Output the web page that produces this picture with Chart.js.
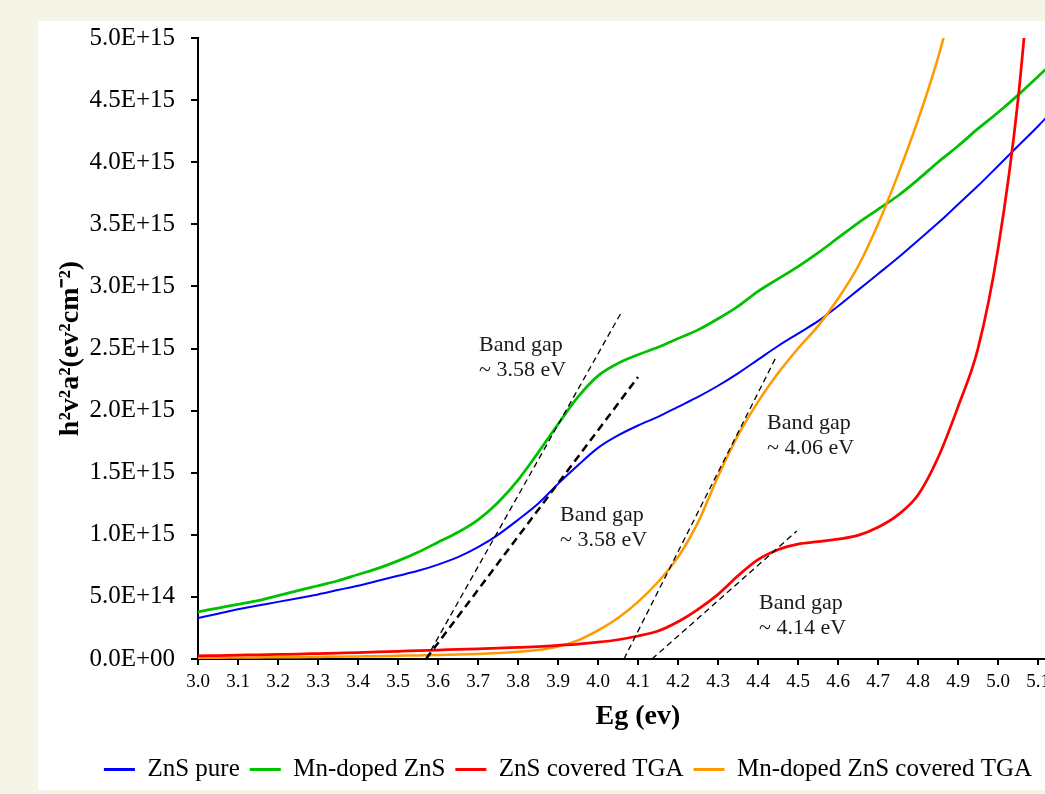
<!DOCTYPE html>
<html>
<head>
<meta charset="utf-8">
<script src="https://cdn.jsdelivr.net/npm/chart.js@4.4.0/dist/chart.umd.min.js"></script>
<style>
    html, body { margin: 0; padding: 0; overflow: hidden; }
    body { background: #f4f5e6; width: 1045px; height: 794px; position: relative; }
    #panel { position: absolute; left: 38px; top: 21px; width: 1060px; height: 769px; background: #fff; overflow: hidden; }
</style>
</head>
<body>
<div id="panel"><canvas id="chart" width="1080" height="771"></canvas></div>
<script>
// Photon energy (eV), shared x values
const energy = [3.00, 3.05, 3.10, 3.15, 3.20, 3.25, 3.30, 3.35, 3.40, 3.45,
    3.50, 3.55, 3.60, 3.65, 3.70, 3.75, 3.80, 3.85, 3.90, 3.95,
    4.00, 4.05, 4.10, 4.15, 4.20, 4.25, 4.30, 4.35, 4.40, 4.45,
    4.50, 4.55, 4.60, 4.65, 4.70, 4.75, 4.80, 4.85, 4.90, 4.95,
    5.00, 5.05, 5.10, 5.15, 5.20];

// (ahv)^2 values in units of 1E+15
const znsPure = [0.33, 0.365, 0.40, 0.43, 0.46, 0.49, 0.52, 0.555, 0.59, 0.63,
    0.67, 0.71, 0.76, 0.82, 0.90, 1.00, 1.12, 1.25, 1.41, 1.56,
    1.70, 1.80, 1.88, 1.95, 2.03, 2.11, 2.20, 2.30, 2.41, 2.52,
    2.62, 2.72, 2.84, 2.97, 3.10, 3.23, 3.37, 3.51, 3.66, 3.81,
    3.97, 4.13, 4.29, 4.46, 4.63];
const mnDoped = [0.38, 0.41, 0.44, 0.47, 0.51, 0.55, 0.59, 0.63, 0.68, 0.73,
    0.79, 0.86, 0.94, 1.02, 1.12, 1.26, 1.44, 1.66, 1.89, 2.11,
    2.28, 2.38, 2.45, 2.51, 2.58, 2.65, 2.74, 2.84, 2.96, 3.06,
    3.16, 3.27, 3.39, 3.51, 3.62, 3.73, 3.86, 4.00, 4.13, 4.27,
    4.40, 4.54, 4.69, 4.84, 4.99];
const znsTga = [0.025, 0.028, 0.031, 0.034, 0.037, 0.040, 0.044, 0.048, 0.052, 0.057,
    0.062, 0.067, 0.072, 0.077, 0.082, 0.087, 0.093, 0.100, 0.110, 0.120,
    0.135, 0.155, 0.185, 0.225, 0.30, 0.40, 0.52, 0.67, 0.80, 0.88,
    0.925, 0.945, 0.965, 0.995, 1.06, 1.16, 1.32, 1.62, 2.03, 2.50,
    3.30, 4.50, 6.30];
const mnDopedTga = [0.010, 0.011, 0.012, 0.013, 0.014, 0.015, 0.017, 0.019, 0.021, 0.023,
    0.026, 0.029, 0.032, 0.036, 0.041, 0.048, 0.058, 0.072, 0.100, 0.150,
    0.23, 0.33, 0.46, 0.62, 0.82, 1.10, 1.47, 1.80, 2.07, 2.30,
    2.50, 2.68, 2.90, 3.16, 3.50, 3.90, 4.34, 4.84, 5.45];

// Tangent (band gap) lines: [start, end]
const tangentMnX = [3.57, 4.06];
const tangentMnY = [0, 2.80];
const tangentPureX = [3.57, 4.10];
const tangentPureY = [0, 2.27];
const tangentMnTgaX = [4.065, 4.445];
const tangentMnTgaY = [0, 2.43];
const tangentTgaX = [4.135, 4.497];
const tangentTgaY = [0, 1.03];

// Band gap notes (anchored in data units)
const noteX = [3.7025, 3.905, 4.4225, 4.4025];
const noteY = [2.528, 1.159, 1.900, 0.451];
const noteText = ['~ 3.58 eV', '~ 3.58 eV', '~ 4.06 eV', '~ 4.14 eV'];

const seriesLabels = ['ZnS pure', 'Mn-doped ZnS', 'ZnS covered TGA', 'Mn-doped ZnS covered TGA'];
const seriesColors = ['#0000ff', '#00c000', '#ff0000', '#ff9900'];

const serif = '"Times New Roman", "Liberation Serif", serif';

function toPoints(xs, ys) {
    return ys.map((v, i) => ({ x: xs[i], y: v }));
}

function sci(v) {
    const val = Math.round(v * 10) / 10 * 1e15;
    if (val === 0) return '0.0E+00';
    const e = Math.floor(Math.log10(val) + 1e-9);
    const m = val / Math.pow(10, e);
    return m.toFixed(1) + 'E+' + String(e).padStart(2, '0');
}

function curve(i, values, width, order) {
    return {
        label: seriesLabels[i],
        data: toPoints(energy, values),
        borderColor: seriesColors[i],
        borderWidth: width,
        pointRadius: 0,
        cubicInterpolationMode: 'monotone',
        order: order
    };
}

function tangent(xs, ys, width, dash) {
    return {
        label: '',
        data: toPoints(xs, ys),
        borderColor: '#000',
        borderWidth: width,
        borderDash: dash,
        pointRadius: 0,
        tension: 0,
        order: 0
    };
}

const bandGapNotes = {
    id: 'bandGapNotes',
    afterDatasetsDraw(chart) {
        const { ctx, scales: { x, y } } = chart;
        ctx.save();
        ctx.font = '22px ' + serif;
        ctx.fillStyle = '#1a1a1a';
        ctx.textBaseline = 'middle';
        ctx.textAlign = 'left';
        noteX.forEach((nx, i) => {
            const px = x.getPixelForValue(nx);
            const py = y.getPixelForValue(noteY[i]);
            ctx.fillText('Band gap', px, py);
            ctx.fillText(noteText[i], px, py + 25);
        });
        ctx.restore();
    }
};

new Chart(document.getElementById('chart'), {
    type: 'line',
    data: {
        datasets: [
            curve(0, znsPure, 2, 2),
            curve(1, mnDoped, 2.75, 2),
            curve(2, znsTga, 2.75, 1),
            curve(3, mnDopedTga, 2.5, 1),
            tangent(tangentMnX, tangentMnY, 1.3, [6, 4]),
            tangent(tangentPureX, tangentPureY, 2.5, [8, 5]),
            tangent(tangentMnTgaX, tangentMnTgaY, 1.3, [6, 4]),
            tangent(tangentTgaX, tangentTgaY, 1.3, [6, 4])
        ]
    },
    options: {
        responsive: false,
        animation: false,
        devicePixelRatio: 1,
        layout: { padding: { top: 17, right: 40, bottom: 0, left: 20 } },
        plugins: {
            tooltip: { enabled: false },
            legend: {
                position: 'bottom',
                labels: {
                    usePointStyle: true,
                    pointStyleWidth: 31,
                    padding: 10,
                    color: '#000',
                    font: { family: serif, size: 25 },
                    generateLabels: (chart) => chart.data.datasets.slice(0, 4).map((ds, i) => ({
                        text: ds.label,
                        strokeStyle: ds.borderColor,
                        fillStyle: ds.borderColor,
                        lineWidth: 3,
                        pointStyle: 'line',
                        hidden: false,
                        datasetIndex: i,
                        fontColor: '#000'
                    }))
                }
            }
        },
        scales: {
            x: {
                type: 'linear',
                min: 3.0,
                max: 5.2,
                afterFit: (s) => { s.height = 88; },
                border: { display: true, color: '#000', width: 2 },
                grid: { drawOnChartArea: false, drawTicks: true, tickLength: 6, color: '#000', lineWidth: 2 },
                ticks: {
                    stepSize: 0.1,
                    autoSkip: false,
                    maxRotation: 0,
                    padding: 6,
                    color: '#000',
                    font: { family: serif, size: 19 },
                    callback: (v) => v.toFixed(1)
                },
                title: {
                    display: true,
                    text: 'Eg (ev)',
                    color: '#000',
                    font: { family: serif, size: 28, weight: 'bold' },
                    padding: { top: 0, bottom: 13 }
                }
            },
            y: {
                type: 'linear',
                min: 0,
                max: 5,
                afterFit: (s) => { s.width = 140; s.paddingTop = 0; s.paddingBottom = 0; },
                border: { display: true, color: '#000', width: 2 },
                grid: { drawOnChartArea: false, drawTicks: true, tickLength: 7, color: '#000', lineWidth: 2 },
                ticks: {
                    stepSize: 0.5,
                    padding: 16,
                    color: '#000',
                    font: { family: serif, size: 25 },
                    callback: (v) => sci(v)
                },
                title: {
                    display: true,
                    text: 'h²v²a²(ev²cm⁻²)',
                    color: '#000',
                    font: { family: serif, size: 28, weight: 'bold' },
                    padding: { top: -4, bottom: 0 }
                }
            }
        }
    },
    plugins: [bandGapNotes]
});
</script>
</body>
</html>
